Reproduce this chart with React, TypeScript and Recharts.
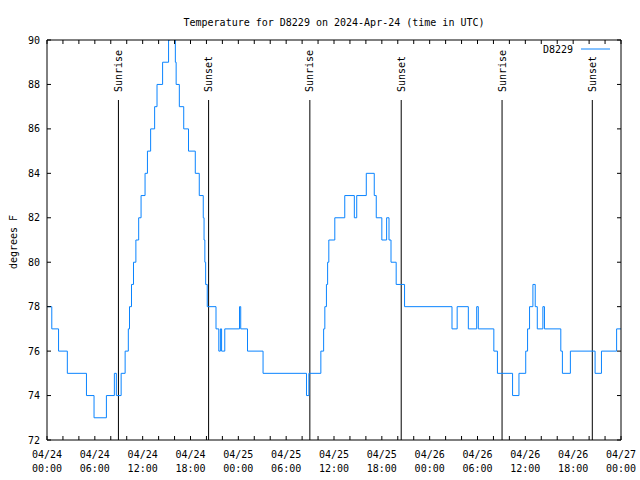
import React from 'react';
import { LineChart, Line, XAxis, YAxis, ReferenceLine } from 'recharts';

// hour (since 04/24 00:00 UTC) at which each reading starts, and the reading
const day1Hours = [
  0, 0.6, 1.45, 2.55, 4.95, 5.9, 7.45, 8.45, 8.7, 9.3, 9.8, 10.2, 10.35, 10.6,
  10.85, 11.15, 11.5, 11.8, 12.3, 12.6, 13.0, 13.5, 13.8, 14.5, 15.25, 15.45,
  16.05, 16.1, 16.2, 16.6, 17.15, 17.75, 18.6, 19.1, 19.6, 19.7, 19.8, 19.9,
  20.1, 21.2, 21.55, 21.75, 21.9, 22.3,
];
const day1Temps = [
  78, 77, 76, 75, 74, 73, 74, 75, 74, 75, 76, 77, 78, 79, 80, 81, 82, 83, 84,
  85, 86, 87, 88, 89, 90, 91, 90, 89, 88, 87, 86, 85, 84, 83, 82, 81, 80, 79,
  78, 77, 76, 77, 76, 77,
];

const day2Hours = [
  24.15, 24.3, 25.15, 27.1, 32.55, 32.85, 34.35, 34.7, 34.85, 35.05, 35.2,
  35.35, 36.1, 37.35, 38.55, 38.85, 40.05, 41.05, 41.3, 42.0, 42.6, 42.9,
  43.15, 43.8, 44.85,
];
const day2Temps = [
  78, 77, 76, 75, 74, 75, 76, 77, 78, 79, 80, 81, 82, 83, 82, 83, 84, 83, 82,
  81, 82, 81, 80, 79, 78,
];

const day3Hours = [
  50.8, 51.45, 52.85, 53.9, 54.1, 56.05, 56.5, 58.4, 59.2, 60.05, 60.28, 60.53,
  60.95, 61.24, 61.5, 62.2, 62.4, 64.45, 64.65, 65.65, 68.75, 69.55, 71.45, 72,
];
const day3Temps = [
  77, 78, 77, 78, 77, 76, 75, 74, 75, 76, 77, 78, 79, 78, 77, 78, 77, 76, 75,
  76, 75, 76, 77, 77,
];

const sunriseHours = [8.96, 32.97, 57.08];
const sunsetHours = [20.27, 44.43, 68.4];

const xTicks = [
  0, 2, 4, 6, 8, 10, 12, 14, 16, 18, 20, 22, 24, 26, 28, 30, 32, 34, 36, 38,
  40, 42, 44, 46, 48, 50, 52, 54, 56, 58, 60, 62, 64, 66, 68, 70, 72,
];
const xLabelHours = [0, 6, 12, 18, 24, 30, 36, 42, 48, 54, 60, 66, 72];
const xDateLabels = [
  '04/24', '04/24', '04/24', '04/24', '04/25', '04/25', '04/25', '04/25',
  '04/26', '04/26', '04/26', '04/26', '04/27',
];
const xTimeLabels = [
  '00:00', '06:00', '12:00', '18:00', '00:00', '06:00', '12:00', '18:00',
  '00:00', '06:00', '12:00', '18:00', '00:00',
];
const yTicks = [72, 74, 76, 78, 80, 82, 84, 86, 88, 90];

const FONT = '"DejaVu Sans Mono", "Liberation Mono", monospace';
const BLUE = '#0a84ff';
const sunLineTop = 87.3;

const allHours = [...day1Hours, ...day2Hours, ...day3Hours];
const allTemps = [...day1Temps, ...day2Temps, ...day3Temps];
const data = allHours.map((h, i) => ({ h, temp: allTemps[i] }));

function BottomTick({ x, y, payload }: any) {
  const i = xLabelHours.indexOf(payload.value);
  return (
    <g>
      <line x1={x} y1={y} x2={x} y2={y - 4} stroke="#000" />
      {i >= 0 && (
        <text x={x} y={y} textAnchor="middle" fontFamily={FONT} fontSize={10} fill="#000">
          <tspan x={x} dy={18}>{xDateLabels[i]}</tspan>
          <tspan x={x} dy={14}>{xTimeLabels[i]}</tspan>
        </text>
      )}
    </g>
  );
}

function TopTick({ x, y }: any) {
  return <line x1={x} y1={y} x2={x} y2={y + 4} stroke="#000" />;
}

function LeftTick({ x, y, payload }: any) {
  return (
    <g>
      <line x1={x} y1={y} x2={x + 4} y2={y} stroke="#000" />
      <text x={x - 7} y={y} dy={3.5} textAnchor="end" fontFamily={FONT} fontSize={10} fill="#000">
        {payload.value}
      </text>
    </g>
  );
}

function RightTick({ x, y }: any) {
  return <line x1={x} y1={y} x2={x - 4} y2={y} stroke="#000" />;
}

function SunLabel({ viewBox, text }: any) {
  if (!viewBox) return null;
  const x = viewBox.x;
  const y = viewBox.y - 8;
  return (
    <text
      transform={`translate(${x}, ${y}) rotate(-90)`}
      dy={3.5}
      textAnchor="start"
      fontFamily={FONT}
      fontSize={10}
      fill="#000"
    >
      {text}
    </text>
  );
}

export default function App() {
  return (
    <div style={{ position: 'fixed', left: 0, top: 0, width: 640, height: 480, background: '#fff' }}>
      <LineChart
        width={640}
        height={480}
        data={data}
        margin={{ top: 10, right: 0, bottom: 0, left: 7 }}
      >
        <XAxis
          dataKey="h"
          type="number"
          domain={[0, 72]}
          ticks={xTicks}
          interval={0}
          allowDataOverflow
          height={40}
          tickSize={0}
          tickMargin={0}
          tickLine={false}
          axisLine={{ stroke: '#000' }}
          tick={<BottomTick />}
        />
        <XAxis
          xAxisId="top"
          orientation="top"
          dataKey="h"
          type="number"
          domain={[0, 72]}
          ticks={xTicks}
          interval={0}
          allowDataOverflow
          height={30}
          tickSize={0}
          tickMargin={0}
          tickLine={false}
          axisLine={{ stroke: '#000' }}
          tick={<TopTick />}
        />
        <YAxis
          type="number"
          domain={[72, 90]}
          ticks={yTicks}
          interval={0}
          allowDataOverflow
          width={40}
          tickSize={0}
          tickMargin={0}
          tickLine={false}
          axisLine={{ stroke: '#000' }}
          tick={<LeftTick />}
        />
        <YAxis
          yAxisId="right"
          orientation="right"
          type="number"
          domain={[72, 90]}
          ticks={yTicks}
          interval={0}
          allowDataOverflow
          width={19}
          tickSize={0}
          tickMargin={0}
          tickLine={false}
          axisLine={{ stroke: '#000' }}
          tick={<RightTick />}
        />
        {sunriseHours.map((h) => (
          <ReferenceLine
            key={'sr' + h}
            segment={[{ x: h, y: 72 }, { x: h, y: sunLineTop }]}
            stroke="#000"
            strokeWidth={1}
            label={<SunLabel text="Sunrise" />}
          />
        ))}
        {sunsetHours.map((h) => (
          <ReferenceLine
            key={'ss' + h}
            segment={[{ x: h, y: 72 }, { x: h, y: sunLineTop }]}
            stroke="#000"
            strokeWidth={1}
            label={<SunLabel text="Sunset" />}
          />
        ))}
        <Line
          type="stepAfter"
          dataKey="temp"
          stroke={BLUE}
          strokeWidth={1}
          dot={false}
          isAnimationActive={false}
        />
      </LineChart>
      <svg
        width={640}
        height={480}
        style={{ position: 'absolute', left: 0, top: 0, pointerEvents: 'none' }}
      >
        <text x={334} y={26} textAnchor="middle" fontFamily={FONT} fontSize={10} fill="#000">
          Temperature for D8229 on 2024-Apr-24 (time in UTC)
        </text>
        <text
          transform="translate(13, 242) rotate(-90)"
          dy={3.5}
          textAnchor="middle"
          fontFamily={FONT}
          fontSize={10}
          fill="#000"
        >
          degrees F
        </text>
        <text x={573} y={49} dy={3.5} textAnchor="end" fontFamily={FONT} fontSize={10} fill="#000">
          D8229
        </text>
        <line x1={581} y1={49} x2={610} y2={49} stroke={BLUE} strokeWidth={1} />
      </svg>
    </div>
  );
}
